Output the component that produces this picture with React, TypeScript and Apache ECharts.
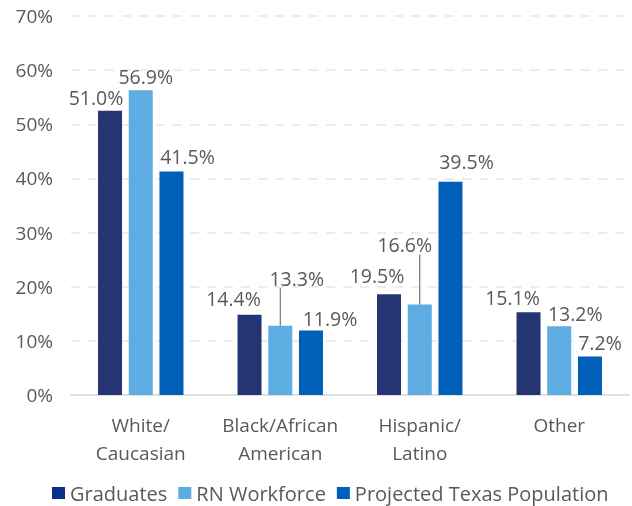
import React, { useEffect, useRef } from 'react';
import * as echarts from 'echarts';

const categories = ['White/\nCaucasian', 'Black/African\nAmerican', 'Hispanic/\nLatino', 'Other'];
const seriesNames = ['Graduates', 'RN Workforce', 'Projected Texas Population'];
// bar heights as drawn (percent)
const graduates = [52.5, 14.8, 18.6, 15.3];
const rnWorkforce = [56.3, 12.8, 16.7, 12.7];
const projected = [41.3, 11.9, 39.4, 7.1];
// data label texts (percent)
const graduatesLabels = [51.0, 14.4, 19.5, 15.1];
const rnWorkforceLabels = [56.9, 13.3, 16.6, 13.2];
const projectedLabels = [41.5, 11.9, 39.5, 7.2];

const colors = ['#253472', '#5DADE3', '#0060B9'];
const legendColors = ['#0A318A', '#5DADE3', '#0060B9'];
const textColor = '#595959';
const FONT = 'Open Sans';

// label layout offsets (dx, dy) per series per category
const labelDx = [
  [-14, -16, -12, -16],
  [5, 16.5, -15, 16],
  [16, 19, 16, 10],
];
const labelDy = [
  [1.5, -1, -4, 0],
  [1.5, -32.5, -45, 2],
  [0, 3, -5, 1],
];
const leaderLines = [
  [false, false, false, false],
  [false, true, true, false],
  [false, false, false, false],
];

export default function App() {
  const ref = useRef<HTMLDivElement>(null);
  useEffect(() => {
    if (!ref.current) return;
    const chart = echarts.init(ref.current, undefined, { renderer: 'svg' });
    const values = [graduates, rnWorkforce, projected];
    const labels = [graduatesLabels, rnWorkforceLabels, projectedLabels];
    const series = seriesNames.map((name, s) => ({
      name,
      type: 'bar',
      barWidth: 24,
      barGap: '28%',
      itemStyle: { color: colors[s] },
      label: {
        show: true,
        position: 'top',
        distance: 5,
        color: textColor,
        fontSize: 19.5,
        fontFamily: FONT,
        formatter: (p: any) => labels[s][p.dataIndex].toFixed(1) + '%',
      },
      labelLayout: (p: any) => ({ dx: labelDx[s][p.dataIndex], dy: labelDy[s][p.dataIndex] }),
      data: values[s],
    }));
    chart.setOption({
      animation: false,
      textStyle: { fontFamily: FONT, color: textColor },
      color: colors,
      grid: { left: 71, right: 3, top: 16, bottom: 111, containLabel: false },
      legend: {
        data: seriesNames.map((n, s) => ({ name: n, itemStyle: { color: legendColors[s] } })),
        top: 482,
        left: 52,
        itemWidth: 13,
        itemHeight: 12,
        itemGap: 11,
        icon: 'rect',
        padding: 0,
        textStyle: { fontSize: 20, lineHeight: 22, color: textColor, fontFamily: FONT },
      },
      xAxis: {
        type: 'category',
        data: categories,
        axisLine: { lineStyle: { color: '#E0E0E0', width: 2 } },
        axisTick: { show: false },
        axisLabel: { interval: 0, fontSize: 19, color: textColor, lineHeight: 28, margin: 16, fontFamily: FONT },
      },
      yAxis: {
        type: 'value',
        min: 0,
        max: 70,
        interval: 10,
        axisLine: { show: false },
        axisTick: { show: false },
        axisLabel: { fontSize: 19, color: textColor, margin: 18, formatter: '{value}%', fontFamily: FONT },
        splitLine: { lineStyle: { color: '#E6E6E6', width: 1.5, type: [9, 8] } },
      },
      series,
    });

    // leader lines from bar tops to moved labels, positioned from the library's bar layout
    const model: any = (chart as any).getModel();
    const lines: any[] = [];
    seriesNames.forEach((_, s) => {
      const data = model.getSeriesByIndex(s).getData();
      values[s].forEach((_v, i) => {
        if (!leaderLines[s][i]) return;
        const l = data.getItemLayout(i);
        if (!l) return;
        const cx = l.x + l.width / 2;
        const top = Math.min(l.y, l.y + l.height);
        lines.push({
          type: 'line',
          shape: { x1: cx, y1: top, x2: cx, y2: top - 5 + labelDy[s][i] },
          style: { stroke: textColor, lineWidth: 1 },
          silent: true,
        });
      });
    });
    chart.setOption({ graphic: lines });
    return () => chart.dispose();
  }, []);
  return <div ref={ref} style={{ position: 'fixed', left: 0, top: 0, width: 632, height: 506 }} />;
}
